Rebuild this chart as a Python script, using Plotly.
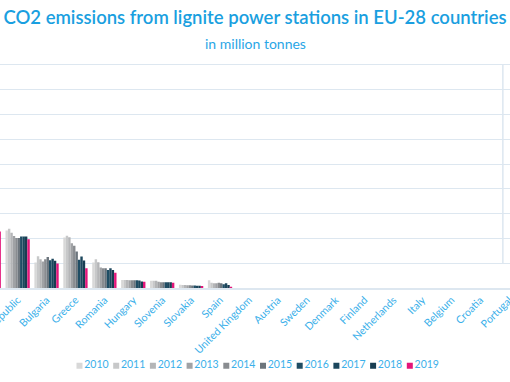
import plotly.graph_objects as go

countries = ["Germany", "Poland", "Czech Republic", "Bulgaria", "Greece", "Romania",
             "Hungary", "Slovenia", "Slovakia", "Spain", "United Kingdom", "Austria",
             "Sweden", "Denmark", "Finland", "Netherlands", "Italy", "Belgium",
             "Croatia", "Portugal"]
years = ["2010", "2011", "2012", "2013", "2014", "2015", "2016", "2017", "2018", "2019"]

germany = [169, 172, 178, 177, 172, 171, 165, 160, 154, 116]
poland = [53, 55, 55, 56, 55, 54, 52, 52, 52, 45.6]
czech = [46.4, 47.8, 44.5, 42.0, 40.3, 40.3, 41.5, 41.5, 41.5, 39.4]
bulgaria = [20.5, 25.6, 23.2, 21.3, 23.3, 25.1, 22.4, 23.7, 22.0, 19.7]
greece = [40.7, 42.1, 41.0, 36.2, 34.0, 29.4, 22.7, 25.4, 22.1, 15.9]
romania = [20.5, 23.2, 20.8, 16.5, 15.9, 15.9, 14.6, 15.9, 14.6, 12.4]
hungary = [6.5, 6.5, 6.4, 6.3, 6.3, 6.2, 6.2, 6.0, 5.3, 5.0]
slovenia = [5.9, 5.9, 5.8, 5.1, 4.6, 4.6, 4.6, 4.6, 4.6, 4.3]
slovakia = [2.6, 2.5, 2.4, 2.3, 2.2, 2.0, 2.0, 1.9, 1.9, 1.7]
spain = [6.2, 4.3, 3.8, 3.8, 4.3, 3.8, 3.0, 3.8, 2.4, 1.1]
zeros = [0] * 10
country_values = [germany, poland, czech, bulgaria, greece, romania, hungary,
                  slovenia, slovakia, spain] + [zeros] * 10

colors = ["#d8d8d8", "#c7c8c9", "#b4b5b7", "#a0a2a5", "#898c90", "#6c757d",
          "#1f4d64", "#1c475d", "#173d52", "#e3157a"]

TXT = "#3bb0ea"
GRID = "#dde7f0"

fig = go.Figure()
for i, yr in enumerate(years):
    fig.add_trace(go.Bar(
        x=countries, y=[cv[i] for cv in country_values], name=yr,
        marker=dict(color=colors[i], line=dict(width=0)), showlegend=False,
        xaxis="x", yaxis="y"))

# legend row drawn as a small marker+text series
fig.add_trace(go.Scatter(
    x=list(range(len(years))), y=[0] * len(years), mode="markers+text",
    text=years, textposition="middle right",
    textfont=dict(color=TXT, size=10.5, family="Lato"),
    marker=dict(symbol="square", size=6, color=colors),
    xaxis="x2", yaxis="y2", showlegend=False, hoverinfo="skip"))

fig.update_layout(
    width=510, height=382,
    margin=dict(l=0, r=0, t=0, b=0),
    paper_bgcolor="white", plot_bgcolor="white",
    barmode="group", bargap=0.16, bargroupgap=0,
    font=dict(family="Lato", color=TXT),
    title=dict(text="CO2 emissions from lignite power stations in EU-28 countries",
               x=0.5, xanchor="center", y=0.955, yanchor="middle", yref="container",
               font=dict(size=18.5, color="#1a9fe0", family="Lato", weight=600)),
    annotations=[dict(text="in million tonnes", xref="paper", yref="paper",
                      x=0.5, y=0.887, xanchor="center", yanchor="middle",
                      showarrow=False, font=dict(size=14, color="#2aa6e6", family="Lato"))],
    xaxis=dict(type="category", range=[1.39, 19.03], domain=[0, 1],
               tickangle=-45, tickfont=dict(size=10.6, color=TXT, family="Lato"),
               showgrid=False, showline=True, linecolor=GRID, linewidth=1.5,
               ticks="", automargin=False, fixedrange=True),
    yaxis=dict(range=[0, 181], dtick=20, domain=[0.2461, 0.8331],
               showgrid=True, gridcolor=GRID, gridwidth=1.2, zeroline=False,
               showticklabels=False, ticks="", automargin=False, fixedrange=True),
    xaxis2=dict(domain=[0, 1], range=[-2.166, 11.73], visible=False, fixedrange=True),
    yaxis2=dict(domain=[0.0, 0.085], range=[-1, 1], visible=False, fixedrange=True),
    shapes=[dict(type="line", xref="paper", yref="y", x0=0.986, x1=0.986, y0=20, y1=180,
                 line=dict(color=GRID, width=1.5))],
)

fig.write_html("out.html", config={"displayModeBar": False},
               post_script="document.body.style.margin='0';")
